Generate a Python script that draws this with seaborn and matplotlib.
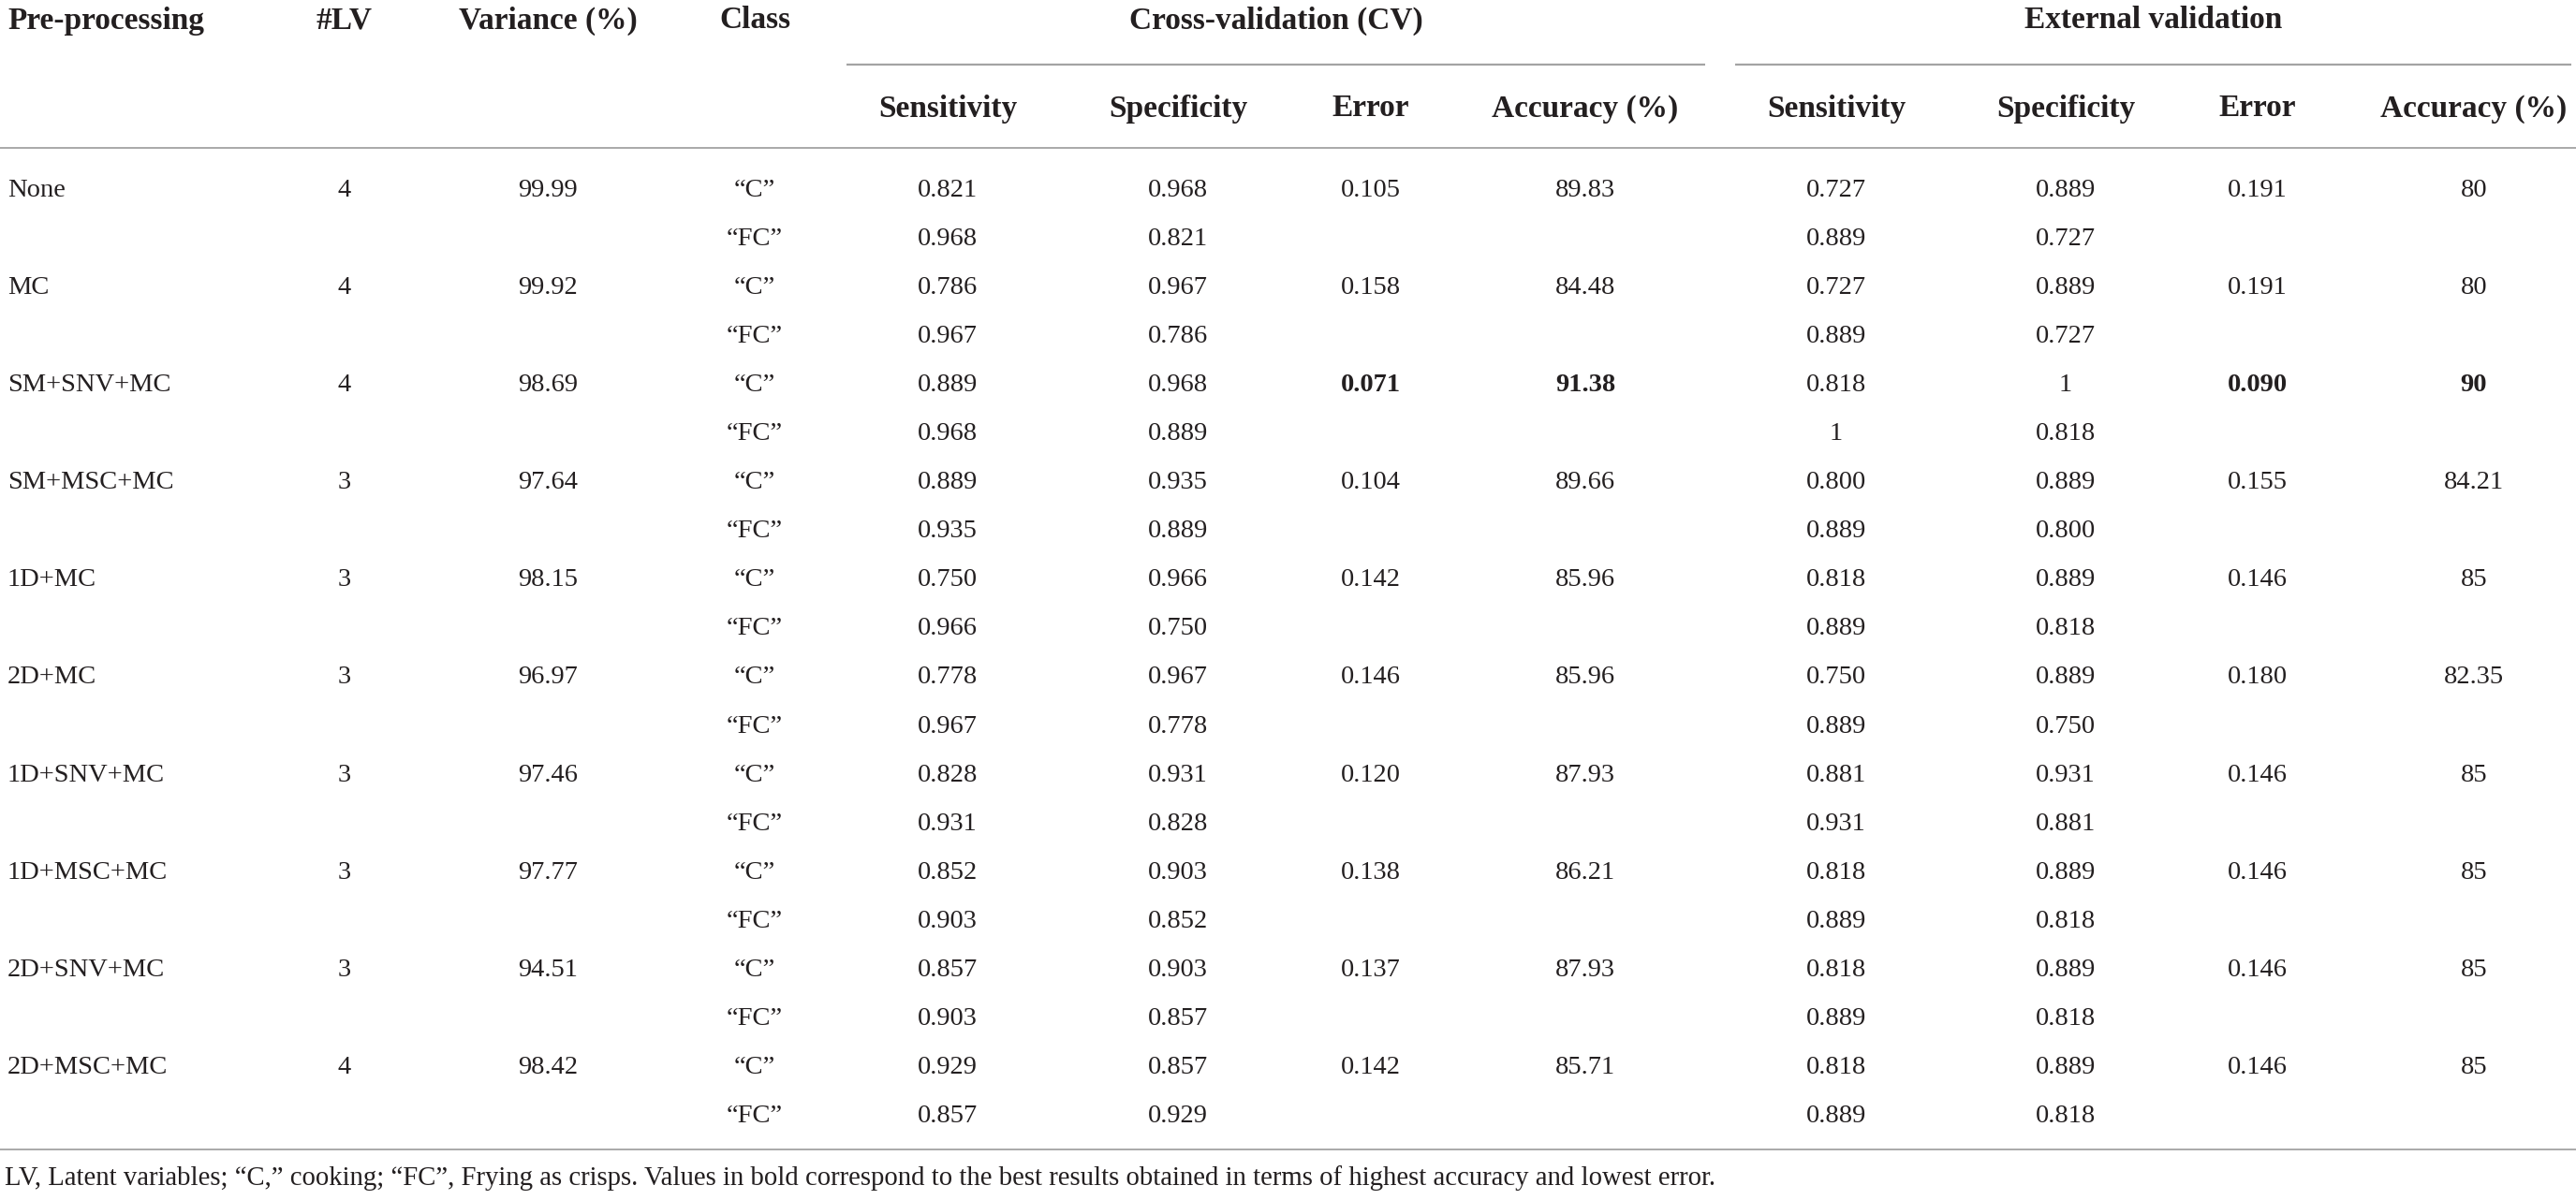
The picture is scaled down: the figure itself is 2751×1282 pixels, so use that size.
import seaborn as sns
import matplotlib.pyplot as plt

# ---------------------------- table values ----------------------------------
methods = ["None", "MC", "SM+SNV+MC", "SM+MSC+MC", "1D+MC", "2D+MC",
           "1D+SNV+MC", "1D+MSC+MC", "2D+SNV+MC", "2D+MSC+MC"]
n_lv = ["4", "4", "4", "3", "3", "3", "3", "3", "3", "4"]
variance = ["99.99", "99.92", "98.69", "97.64", "98.15", "96.97",
            "97.46", "97.77", "94.51", "98.42"]
classes = ["\u201cC\u201d", "\u201cFC\u201d"]

cv_sens_c = ["0.821", "0.786", "0.889", "0.889", "0.750", "0.778", "0.828", "0.852", "0.857", "0.929"]
cv_spec_c = ["0.968", "0.967", "0.968", "0.935", "0.966", "0.967", "0.931", "0.903", "0.903", "0.857"]
cv_sens_fc = ["0.968", "0.967", "0.968", "0.935", "0.966", "0.967", "0.931", "0.903", "0.903", "0.857"]
cv_spec_fc = ["0.821", "0.786", "0.889", "0.889", "0.750", "0.778", "0.828", "0.852", "0.857", "0.929"]
cv_error = ["0.105", "0.158", "0.071", "0.104", "0.142", "0.146", "0.120", "0.138", "0.137", "0.142"]
cv_acc = ["89.83", "84.48", "91.38", "89.66", "85.96", "85.96", "87.93", "86.21", "87.93", "85.71"]

ext_sens_c = ["0.727", "0.727", "0.818", "0.800", "0.818", "0.750", "0.881", "0.818", "0.818", "0.818"]
ext_spec_c = ["0.889", "0.889", "1", "0.889", "0.889", "0.889", "0.931", "0.889", "0.889", "0.889"]
ext_sens_fc = ["0.889", "0.889", "1", "0.889", "0.889", "0.889", "0.931", "0.889", "0.889", "0.889"]
ext_spec_fc = ["0.727", "0.727", "0.818", "0.800", "0.818", "0.750", "0.881", "0.818", "0.818", "0.818"]
ext_error = ["0.191", "0.191", "0.090", "0.155", "0.146", "0.180", "0.146", "0.146", "0.146", "0.146"]
ext_acc = ["80", "80", "90", "84.21", "85", "82.35", "85", "85", "85", "85"]

best_row = 2  # values printed in bold

top_headers = ["Pre-processing", "#LV", "Variance (%)", "Class"]
group_headers = ["Cross-validation (CV)", "External validation"]
sub_headers = ["Sensitivity", "Specificity", "Error", "Accuracy (%)"]
footnote = ("LV, Latent variables; \u201cC,\u201d cooking; \u201cFC\u201d, Frying as crisps. "
            "Values in bold correspond to the best results obtained in terms of "
            "highest accuracy and lowest error.")

# ---------------------------- layout (pixels) -------------------------------
W, H = 2751, 1282
col_x = [8, 368, 585, 806]
cv_x = [1012, 1258, 1464, 1693]
ext_x = [1961, 2206, 2411, 2642]
row0, row_step = 203, 52.1
ink = "#231f20"
rule = "#a3a3a3"

sns.set_theme(style="white")
plt.rcParams["font.family"] = ["Liberation Serif", "DejaVu Serif"]

fig = plt.figure(figsize=(W / 100, H / 100), dpi=100)
ax = fig.add_axes([0, 0, 1, 1])
ax.set_xlim(0, W)
ax.set_ylim(H, 0)
ax.axis("off")

hdr = dict(fontsize=24, fontweight="bold", color=ink, va="center")
cell = dict(fontsize=20.5, color=ink, va="center")

# header rows
ax.text(col_x[0], 22, top_headers[0], ha="left", **hdr)
for x, t in zip(col_x[1:], top_headers[1:]):
    ax.text(x, 22, t, ha="center", **hdr)
ax.text((904 + 1821) / 2, 22, group_headers[0], ha="center", **hdr)
ax.text((1853 + 2746) / 2, 22, group_headers[1], ha="center", **hdr)
for x, t in zip(cv_x + ext_x, sub_headers + sub_headers):
    ax.text(x, 116, t, ha="center", **hdr)

# rules
ax.hlines(69, 904, 1821, color=rule, lw=1.6)
ax.hlines(69, 1853, 2746, color=rule, lw=1.6)
ax.hlines(158, 0, W, color=rule, lw=1.3)
ax.hlines(1228, 0, W, color=rule, lw=1.3)

# body
for i, name in enumerate(methods):
    yc = row0 + row_step * (2 * i)
    yf = row0 + row_step * (2 * i + 1)
    w = "bold" if i == best_row else "normal"
    ax.text(col_x[0], yc, name, ha="left", **cell)
    ax.text(col_x[1], yc, n_lv[i], ha="center", **cell)
    ax.text(col_x[2], yc, variance[i], ha="center", **cell)
    ax.text(col_x[3], yc, classes[0], ha="center", **cell)
    ax.text(col_x[3], yf, classes[1], ha="center", **cell)

    ax.text(cv_x[0], yc, cv_sens_c[i], ha="center", **cell)
    ax.text(cv_x[1], yc, cv_spec_c[i], ha="center", **cell)
    ax.text(cv_x[0], yf, cv_sens_fc[i], ha="center", **cell)
    ax.text(cv_x[1], yf, cv_spec_fc[i], ha="center", **cell)
    ax.text(cv_x[2], yc, cv_error[i], ha="center", fontweight=w, **cell)
    ax.text(cv_x[3], yc, cv_acc[i], ha="center", fontweight=w, **cell)

    ax.text(ext_x[0], yc, ext_sens_c[i], ha="center", **cell)
    ax.text(ext_x[1], yc, ext_spec_c[i], ha="center", **cell)
    ax.text(ext_x[0], yf, ext_sens_fc[i], ha="center", **cell)
    ax.text(ext_x[1], yf, ext_spec_fc[i], ha="center", **cell)
    ax.text(ext_x[2], yc, ext_error[i], ha="center", fontweight=w, **cell)
    ax.text(ext_x[3], yc, ext_acc[i], ha="center", fontweight=w, **cell)

ax.text(5, 1259, footnote, ha="left", fontsize=20.7, color=ink, va="center")

fig.savefig("out.png", dpi=100, facecolor="white")
plt.close(fig)
